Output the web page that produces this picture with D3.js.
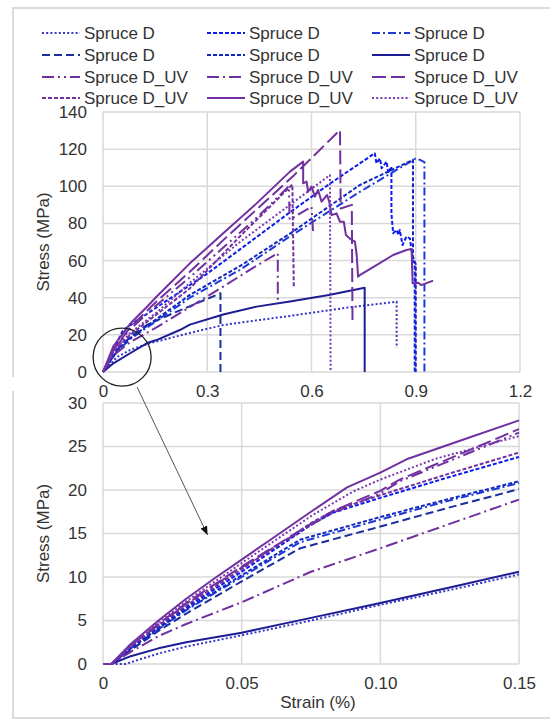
<!DOCTYPE html>
<html><head><meta charset="utf-8">
<script src="https://cdn.jsdelivr.net/npm/d3@7"></script>
<style>
body{margin:0;background:#fff}
svg{display:block}
text{font-family:"Liberation Sans",Arial,sans-serif;fill:#333}
</style>
</head><body>
<svg id="c" width="550" height="721"></svg>
<script>
// ---------- labels & ticks ----------
const legendLabels = ["Spruce D","Spruce D","Spruce D","Spruce D","Spruce D","Spruce D",
  "Spruce D_UV","Spruce D_UV","Spruce D_UV","Spruce D_UV","Spruce D_UV","Spruce D_UV"];
const topXTicks = [0, 0.3, 0.6, 0.9, 1.2];
const topXTickLabels = ["0", "0.3", "0.6", "0.9", "1.2"];
const topYTicks = [0, 20, 40, 60, 80, 100, 120, 140];
const botXTicks = [0, 0.05, 0.10, 0.15];
const botXTickLabels = ["0", "0.05", "0.10", "0.15"];
const botYTicks = [0, 5, 10, 15, 20, 25, 30];
const xTitle = "Strain (%)";
const yTitle = "Stress (MPa)";

// ---------- top panel data: [strain %, stress MPa] ----------
const topS1 = [[0,0],[0.04,8],[0.08,12],[0.135,15.5],[0.25,21],[0.346,25.3],[0.45,28],[0.538,30.2],[0.7,34.6],[0.845,37.9],[0.845,13]];
const topS2 = [[0,0],[0.03,12],[0.058,22.6],[0.1,28],[0.2,40.5],[0.3,53],[0.394,66],[0.538,86],[0.65,101],[0.782,117.8],[0.787,112.4],[0.797,115],[0.802,109.7],[0.816,113.3],[0.821,107],[0.83,110.6],[0.83,85.4],[0.835,74.7],[0.845,76.5],[0.85,73.8],[0.854,76.5],[0.862,68.4],[0.873,72.9],[0.883,72],[0.892,60.3],[0.897,58.5],[0.897,0]];
const topS3 = [[0,0],[0.04,11],[0.08,18],[0.15,27],[0.25,40],[0.394,55],[0.538,73],[0.739,97],[0.9,115],[0.915,114],[0.925,113],[0.925,0]];
const topS4 = [[0,0],[0.04,12],[0.08,19],[0.126,25.3],[0.2,31.5],[0.27,37],[0.338,42.4],[0.338,0]];
const topS5 = [[0,0],[0.04,11.5],[0.08,18.5],[0.15,28],[0.25,41.5],[0.394,57],[0.538,74.5],[0.739,100.7],[0.892,114.2],[0.892,62],[0.9,58],[0.9,0]];
const topS6 = [[0,0],[0.03,4.7],[0.078,10.1],[0.127,15.6],[0.154,17.2],[0.221,22.6],[0.25,25.5],[0.346,31],[0.442,35.2],[0.538,38],[0.65,41.5],[0.753,45.4],[0.753,0]];
const topS7 = [[0,0],[0.03,12],[0.078,23],[0.154,36],[0.25,51],[0.346,67],[0.442,83],[0.535,100],[0.537,82],[0.6,89],[0.605,74]];
const topS8 = [[0,0],[0.03,9],[0.078,16],[0.154,24],[0.25,35],[0.346,46],[0.44,57],[0.503,64],[0.503,37.7]];
const topS9 = [[0,0],[0.03,12],[0.078,24],[0.154,38],[0.25,54],[0.346,71],[0.442,87.5],[0.55,106],[0.682,130.3],[0.684,88],[0.716,90],[0.718,26]];
const topS10 = [[0,0],[0.03,11],[0.078,20],[0.154,31],[0.25,45],[0.394,73],[0.545,101],[0.549,46]];
const topS11 = [[0,0],[0.03,14],[0.058,20.8],[0.078,26],[0.126,35],[0.154,40.5],[0.25,58.5],[0.346,74.7],[0.442,90.8],[0.538,107.9],[0.576,113.3],[0.576,101.6],[0.586,102.5],[0.59,97.1],[0.6,99.8],[0.61,94.4],[0.619,98],[0.629,91.7],[0.645,95.3],[0.651,91.7],[0.658,84.5],[0.672,85.4],[0.682,80.9],[0.693,80.9],[0.699,73.8],[0.712,71.6],[0.725,70.2],[0.73,63],[0.734,51.3],[0.739,52.2],[0.787,57.6],[0.835,63],[0.873,65.7],[0.888,66.2],[0.891,47.8],[0.907,48.1],[0.916,46.8],[0.95,49.2]];
const topS12 = [[0,0],[0.03,11],[0.078,21],[0.154,32],[0.25,48],[0.394,70],[0.538,90],[0.653,106],[0.655,0]];

// ---------- bottom panel data (initial region) ----------
const botS1 = [[0,0],[0.008,0],[0.02,1.2],[0.03,2.0],[0.05,3.3],[0.075,5.0],[0.1,6.8],[0.125,8.5],[0.15,10.3]];
const botS2 = [[0,0],[0.003,0],[0.01,1.9],[0.02,4.2],[0.03,6.5],[0.05,10.6],[0.075,16.0],[0.083,17.4],[0.1,19.1],[0.125,21.5],[0.15,23.8]];
const botS3 = [[0,0],[0.003,0],[0.01,1.8],[0.02,4.0],[0.03,6.2],[0.05,10.0],[0.0711,14.0],[0.1,16.6],[0.125,18.8],[0.15,20.8]];
const botS4 = [[0,0],[0.003,0],[0.01,1.6],[0.02,3.8],[0.03,5.8],[0.05,9.5],[0.0711,13.3],[0.1,15.8],[0.125,18.0],[0.15,20.1]];
const botS5 = [[0,0],[0.003,0],[0.01,1.8],[0.02,4.1],[0.03,6.3],[0.05,10.2],[0.0711,14.3],[0.1,16.9],[0.125,19.0],[0.15,21.0]];
const botS6 = [[0,0],[0.003,0],[0.01,0.9],[0.02,1.8],[0.03,2.5],[0.05,3.6],[0.075,5.3],[0.1,7.0],[0.125,8.8],[0.15,10.6]];
const botS7 = [[0,0],[0.003,0],[0.01,2.1],[0.02,4.5],[0.03,6.9],[0.05,11.1],[0.075,16.0],[0.083,17.4],[0.1,19.6],[0.107,21.0],[0.13,24.0],[0.15,26.6]];
const botS8 = [[0,0],[0.003,0],[0.01,1.4],[0.02,3.2],[0.03,4.6],[0.05,7.1],[0.075,10.6],[0.1,13.3],[0.125,16.1],[0.15,18.9]];
const botS9 = [[0,0],[0.003,0],[0.01,2.1],[0.02,4.6],[0.03,7.0],[0.05,11.2],[0.075,16.1],[0.083,17.6],[0.1,19.9],[0.107,21.2],[0.13,24.3],[0.15,27.0]];
const botS10 = [[0,0],[0.003,0],[0.01,2.0],[0.02,4.4],[0.03,6.7],[0.05,10.9],[0.075,16.2],[0.083,17.6],[0.1,19.4],[0.125,21.9],[0.15,24.3]];
const botS11 = [[0,0],[0.003,0],[0.01,2.3],[0.02,5.0],[0.03,7.5],[0.04,9.8],[0.05,12.0],[0.06,14.2],[0.075,17.5],[0.088,20.3],[0.1,22.0],[0.11,23.6],[0.13,25.8],[0.15,28.0]];
const botS12 = [[0,0],[0.003,0],[0.01,2.2],[0.02,4.8],[0.03,7.2],[0.05,11.6],[0.075,17.0],[0.09,19.8],[0.1,21.2],[0.12,23.6],[0.15,26.2]];

const topSeries = [topS1,topS2,topS3,topS4,topS5,topS6,topS7,topS8,topS9,topS10,topS11,topS12];
const botSeries = [botS1,botS2,botS3,botS4,botS5,botS6,botS7,botS8,botS9,botS10,botS11,botS12];

// ---------- styles ----------
const purple = "#7030a0";
const styles = [
  {color:"#3535c8", dash:"2,2.2"},
  {color:"#0b1bf0", dash:"4,2"},
  {color:"#1e3ad6", dash:"8,3,2,3"},
  {color:"#1a2ea0", dash:"8,4"},
  {color:"#1327c4", dash:"4,2"},
  {color:"#1c1c94", dash:null},
  {color:purple, dash:"12,4,2,4,2,4"},
  {color:purple, dash:"12,4,2,4"},
  {color:purple, dash:"14,5"},
  {color:purple, dash:"4,2"},
  {color:purple, dash:null},
  {color:"#7a38b0", dash:"2,2.2"}
];

const svg = d3.select("#c");
const FS = 17;
const grid = "#d9d9d9";

// panel frames
const frame = svg.append("g").attr("stroke","#cfcfcf").attr("stroke-width",1.5).attr("fill","none");
frame.append("path").attr("d","M13,377 L13,8 L550,8");
frame.append("path").attr("d","M13,391 L13,718 L550,718");

function panel(xDomain, xRange, yDomain, yRange, xTicks, xLabels, yTicks, series, showXTitle) {
  const x = d3.scaleLinear().domain(xDomain).range(xRange);
  const y = d3.scaleLinear().domain(yDomain).range(yRange);
  const g = svg.append("g");
  g.append("g").selectAll("line").data(yTicks).join("line")
    .attr("x1", x(xDomain[0])).attr("x2", x(xDomain[1]))
    .attr("y1", d => y(d)).attr("y2", d => y(d))
    .attr("stroke", grid).attr("stroke-width", 1.5);
  g.append("g").selectAll("line").data(xTicks).join("line")
    .attr("x1", d => x(d)).attr("x2", d => x(d))
    .attr("y1", y(yDomain[0])).attr("y2", y(yDomain[1]))
    .attr("stroke", grid).attr("stroke-width", 1.5);
  const ax = d3.axisBottom(x).tickValues(xTicks).tickFormat((d,i) => xLabels[i]).tickSize(0).tickPadding(13);
  const ag = g.append("g").attr("transform", `translate(0,${y(yDomain[0])})`).call(ax);
  ag.select(".domain").remove();
  ag.selectAll("text").attr("font-size", FS).attr("fill","#333").attr("font-family",'"Liberation Sans",Arial,sans-serif');
  const ay = d3.axisLeft(y).tickValues(yTicks).tickSize(0).tickPadding(16);
  const yg = g.append("g").attr("transform", `translate(${x(xDomain[0])},0)`).call(ay);
  yg.select(".domain").remove();
  yg.selectAll("text").attr("font-size", FS).attr("fill","#333").attr("font-family",'"Liberation Sans",Arial,sans-serif');
  const yc = (yRange[0] + yRange[1]) / 2;
  g.append("text").attr("transform", `translate(49,${yc}) rotate(-90)`)
    .attr("text-anchor","middle").attr("font-size", FS).text(yTitle);
  if (showXTitle) {
    g.append("text").attr("x", 318).attr("y", 708).attr("text-anchor","middle")
      .attr("font-size", FS).text(xTitle);
  }
  const line = d3.line().x(d => x(d[0])).y(d => y(d[1]));
  const cg = g.append("g").attr("fill","none");
  series.forEach((s, i) => {
    cg.append("path").attr("d", line(s))
      .attr("stroke", styles[i].color).attr("stroke-width", 2)
      .attr("stroke-dasharray", styles[i].dash)
      .attr("stroke-linejoin","round");
  });
  return {x, y};
}

const topPanel = panel([0,1.2],[103,520],[0,140],[372,112], topXTicks, topXTickLabels, topYTicks, topSeries, false);
const botPanel = panel([0,0.15],[103,519],[0,30],[664,403], botXTicks, botXTickLabels, botYTicks, botSeries, true);

// legend
const legCols = [42, 207, 372];
const legRows = [33, 55, 77, 98];
const lg = svg.append("g");
legendLabels.forEach((lab, i) => {
  const cx = legCols[i % 3], cy = legRows[Math.floor(i / 3)];
  lg.append("line").attr("x1", cx).attr("x2", cx + 38).attr("y1", cy).attr("y2", cy)
    .attr("stroke", styles[i].color).attr("stroke-width", 2)
    .attr("stroke-dasharray", styles[i].dash);
  lg.append("text").attr("x", cx + 42).attr("y", cy + 6).attr("font-size", FS).text(lab);
});

// zoom circle and arrow
const cxp = topPanel.x(0.055), cyp = topPanel.y(8);
svg.append("circle").attr("cx", cxp).attr("cy", cyp).attr("r", 29)
  .attr("fill","none").attr("stroke","#222").attr("stroke-width",1.3);
svg.append("defs").append("marker").attr("id","ah").attr("viewBox","0 0 10 10")
  .attr("refX",9).attr("refY",5).attr("markerWidth",9).attr("markerHeight",9)
  .attr("orient","auto").append("path").attr("d","M0,1 L10,5 L0,9 Z").attr("fill","#111");
svg.append("line")
  .attr("x1", topPanel.x(0.098)).attr("y1", topPanel.y(-8.1))
  .attr("x2", botPanel.x(0.0376)).attr("y2", botPanel.y(14.9))
  .attr("stroke","#555").attr("stroke-width",1).attr("marker-end","url(#ah)");
</script>
</body></html>
